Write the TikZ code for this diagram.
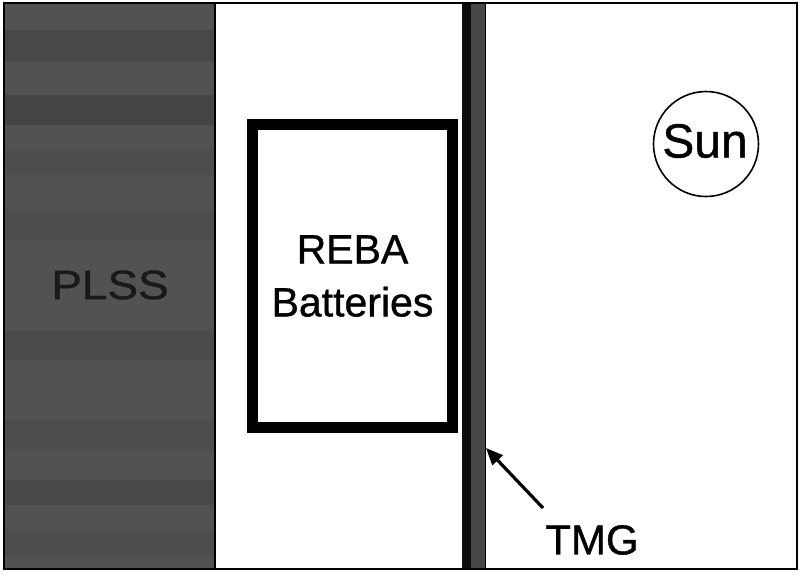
\documentclass[tikz,border=0pt]{standalone}
\usepackage{fontspec}
\setmainfont{Liberation Sans}[BoldFont={Liberation Sans},BoldFeatures={FakeBold=0.9}]
\usetikzlibrary{arrows.meta}
\tikzset{
  big/.style={font=\bfseries\fontsize{41}{53}\selectfont},
  sunfont/.style={font=\bfseries\fontsize{48}{50}\selectfont},
  frameline/.style={line width=2pt, draw=black},
}
\begin{document}
\begin{tikzpicture}[x=1pt,y=-1pt]
\useasboundingbox (0,0) rectangle (801,574);
\fill[white] (0,0) rectangle (801,574);
% PLSS region
\fill[black!68] (4,3) rectangle (214,569);
\foreach \a/\b/\o in {30/62/0.12, 95/125/0.15, 150/175/0.06, 210/240/0.05, 330/360/0.08, 420/450/0.06, 480/505/0.1, 530/555/0.05}{
  \fill[black, opacity=\o] (4,\a) rectangle (214,\b);
}
\draw[line width=2.5pt] (215,3) -- (215,569);
\node[big, text=black!90, inner sep=0pt] (plss) at (110,285) {\scalebox{1.12}[1]{PLSS}};
% TMG strip
\node[fill=black!72, draw=black, line width=1pt, minimum width=23, minimum height=566, inner sep=0pt, anchor=north west] (strip) at (462,3) {};
\fill[black!95] (462,3) rectangle (471,569);
% outer frame
\draw[frameline] (4,3) -- (797,3) -- (797,569) -- (4,569) -- cycle;
% REBA box
\node[draw, line width=11pt, minimum width=200, minimum height=303, inner sep=0pt, big, align=center] (reba) at (352.5,276) {REBA\\Batteries};
% Sun
\node[draw, circle, line width=1.6pt, minimum size=105, inner sep=0pt] (sun) at (706,144) {};
\node[sunfont, inner sep=0pt] (suntext) at (705,141) {Sun};
% TMG label
\node[font=\bfseries\fontsize{42}{45}\selectfont, inner sep=0pt] (tmg) at (592,540) {TMG};
\coordinate (tail) at (543,508);
\coordinate (tip) at (strip.east |- 0,448);
\draw[line width=3.2pt, -{Triangle[length=17pt, width=14pt]}] (tail) -- (tip);
\end{tikzpicture}
\end{document}
